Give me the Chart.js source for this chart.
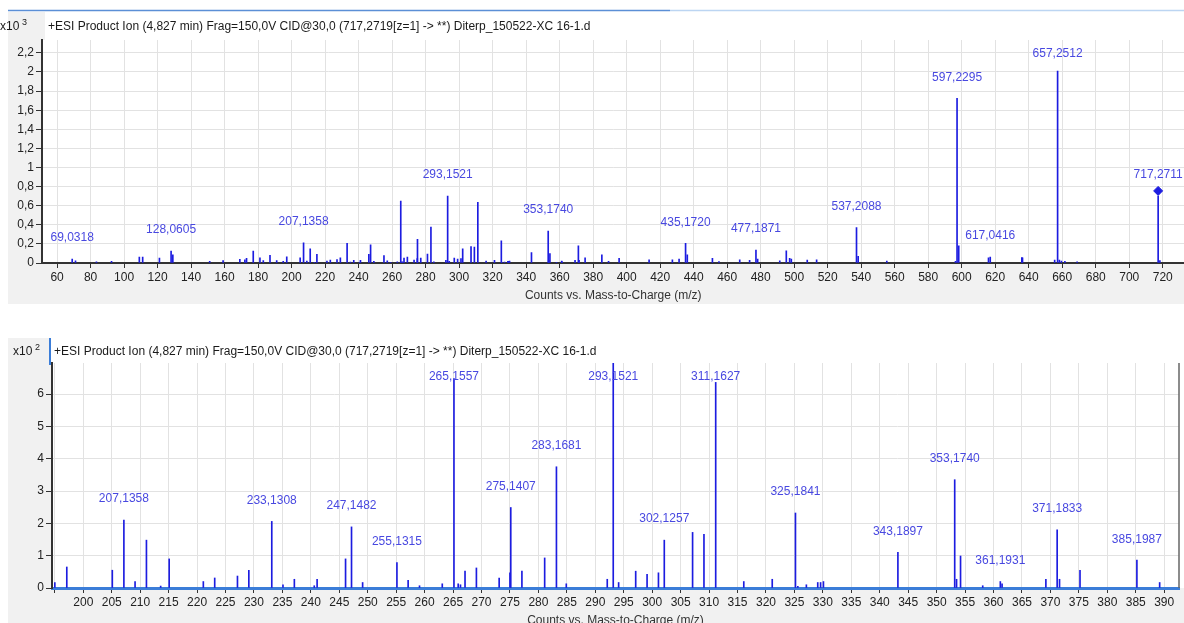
<!DOCTYPE html>
<html lang="en">
<head>
    <meta charset="UTF-8">
    <title>Product Ion spectrum</title>
    <script src="https://cdn.jsdelivr.net/npm/chart.js"></script>
    <style>
        html, body { margin: 0; padding: 0; background: #fff; overflow: hidden; }
        #topChart { position: absolute; left: 0; top: 0; }
        #zoomChart { position: absolute; left: 0; top: 330px; }
    </style>
</head>
<body>
    <canvas id="topChart" width="1190" height="310"></canvas>
    <canvas id="zoomChart" width="1184" height="300"></canvas>
<script>
// peaks (m/z, counts)
const peakMz = [
    69.0318, 71.0, 83.5, 92.5, 109.1, 111.1, 121.1, 128.0605, 129.1, 151.1,
    159.1, 169.1, 172.1, 173.1, 177.1, 181.1, 183.1, 187.1, 191.1,
    195.0, 197.1, 205.1, 207.1358, 209.1, 211.1, 213.6, 215.1, 221.1, 223.1,
    227.1, 229.1, 233.1308, 235.1, 237.1, 240.6, 241.1, 246.1, 247.1482, 249.1,
    255.1315, 257.1, 259.1, 263.1, 265.1557, 265.9, 266.3, 267.1, 269.1, 273.1,
    275.0, 275.1407, 277.1, 281.1, 283.1681, 284.9, 292.1, 293.1521, 294.1, 297.1,
    299.1, 301.1, 302.1257, 307.1, 309.1, 311.1627, 316.1, 321.1, 325.1841, 325.6,
    327.1, 329.1, 329.6, 330.1, 343.1897, 353.1740, 353.5, 354.2, 358.1, 361.1931,
    361.5, 369.2, 371.1833, 371.6, 375.2, 385.1987, 389.2,
    395.5, 413.4, 427.3, 431.3, 435.1720, 436.2, 451.2, 455.1, 467.5, 473.4,
    477.1871, 478.2, 491.4, 495.3, 497.3, 498.3, 507.8, 513.4, 537.2088, 538.2,
    555.3, 596.3, 597.2295, 598.23, 616.0, 617.0416, 635.9, 636.3, 655.5, 657.2512,
    658.3, 659.5, 661.6, 668.9, 717.2711, 718.3
];
const peakCounts = [
    40, 22, 12, 18, 62, 62, 52, 125, 85, 18,
    25, 38, 32, 48, 125, 55, 25, 80, 25,
    17, 65, 55, 210, 20, 148, 6, 90, 20, 31,
    37, 55, 206, 10, 27, 7, 27, 90, 189, 17,
    79, 24, 7, 13, 648, 13, 10, 52, 62, 31,
    47, 249, 52, 93, 375, 13, 27, 700, 17, 52,
    42, 47, 148, 172, 166, 636, 20, 27, 232, 5,
    10, 17, 17, 20, 110, 335, 27, 99, 7, 20,
    13, 27, 180, 27, 55, 86, 17,
    50, 32, 32, 40, 205, 85, 50, 15, 32, 28,
    135, 40, 22, 128, 50, 40, 30, 32, 370, 70,
    20, 18, 1725, 180, 55, 62, 58, 55, 30, 2010,
    30, 20, 18, 12, 700, 25
];
const precursor = [717.2711, 755];

const topLabels = [69.0318, 128.0605, 207.1358, 293.1521, 353.1740, 435.1720,
    477.1871, 537.2088, 597.2295, 617.0416, 657.2512, 717.2711];
const zoomLabels = [207.1358, 233.1308, 247.1482, 255.1315, 265.1557, 275.1407,
    283.1681, 293.1521, 302.1257, 311.1627, 325.1841, 343.1897, 353.1740,
    361.1931, 371.1833, 385.1987];

const topXTicks = [60, 80, 100, 120, 140, 160, 180, 200, 220, 240, 260, 280, 300, 320, 340,
    360, 380, 400, 420, 440, 460, 480, 500, 520, 540, 560, 580, 600, 620, 640, 660, 680, 700, 720];
const topYTicks = [0, 200, 400, 600, 800, 1000, 1200, 1400, 1600, 1800, 2000, 2200];
const zoomXTicks = [195, 200, 205, 210, 215, 220, 225, 230, 235, 240, 245, 250, 255, 260, 265,
    270, 275, 280, 285, 290, 295, 300, 305, 310, 315, 320, 325, 330, 335, 340, 345, 350,
    355, 360, 365, 370, 375, 380, 385, 390];
const zoomYTicks = [0, 100, 200, 300, 400, 500, 600];

const titleText = '+ESI Product Ion (4,827 min) Frag=150,0V CID@30,0 (717,2719[z=1] -> **) Diterp_150522-XC 16-1.d';

Chart.defaults.font.family = '"Liberation Sans", Arial, sans-serif';
Chart.defaults.font.size = 12;
Chart.defaults.color = '#222';

const points = peakMz.map((m, i) => ({ x: m, y: peakCounts[i] }));
const comma = v => String(v).replace('.', ',');

// backgrounds, frame lines and the "x10" title row
const panelFrame = {
    id: 'panelFrame',
    beforeDraw(chart, args, o) {
        const ctx = chart.ctx, a = chart.chartArea;
        const bottom = o.frameBottom || chart.height;
        ctx.save();
        ctx.fillStyle = '#f1f1f1';
        ctx.fillRect(8, o.frameTop, chart.width - 8, bottom - o.frameTop);
        ctx.fillStyle = '#fff';
        ctx.fillRect(o.titleLeft, o.frameTop, o.titleRight - o.titleLeft, a.top - o.frameTop);
        ctx.fillRect(a.left, a.top, a.right - a.left, a.bottom - a.top);
        if (o.whiteRight) ctx.fillRect(a.right, o.frameTop, chart.width - a.right, a.bottom - o.frameTop);
        ctx.restore();
    },
    afterDraw(chart, args, o) {
        const ctx = chart.ctx, a = chart.chartArea;
        ctx.save();
        if (o.topLine) {
            ctx.lineWidth = 1.5;
            ctx.strokeStyle = '#5b8fd6';
            ctx.beginPath(); ctx.moveTo(8, 10.5); ctx.lineTo(670, 10.5); ctx.stroke();
            ctx.strokeStyle = '#bcd5f2';
            ctx.beginPath(); ctx.moveTo(670, 10.5); ctx.lineTo(chart.width, 10.5); ctx.stroke();
        }
        if (o.sideLine) {
            ctx.lineWidth = 2;
            ctx.strokeStyle = '#3b7dd8';
            ctx.beginPath(); ctx.moveTo(50, o.frameTop); ctx.lineTo(50, a.top + 2); ctx.stroke();
            ctx.lineWidth = 1.5;
            ctx.strokeStyle = '#666';
            ctx.beginPath(); ctx.moveTo(a.right, a.top); ctx.lineTo(a.right, a.bottom); ctx.stroke();
        }
        ctx.fillStyle = '#1a1a1a';
        ctx.textBaseline = 'middle';
        ctx.textAlign = 'left';
        ctx.font = '12px "Liberation Sans", Arial, sans-serif';
        ctx.fillText('x10', o.expX, o.titleY);
        ctx.fillText(titleText, o.titleX, o.titleY);
        ctx.font = '9px "Liberation Sans", Arial, sans-serif';
        ctx.fillText(o.exp, o.expX + 22, o.titleY - 4);
        ctx.restore();
    }
};

// m/z labels above the labelled peaks
const peakLabels = {
    id: 'peakLabels',
    afterDatasetsDraw(chart, args, o) {
        const ctx = chart.ctx, a = chart.chartArea;
        const xs = chart.scales.x, ys = chart.scales.y;
        ctx.save();
        ctx.font = '12px "Liberation Sans", Arial, sans-serif';
        ctx.fillStyle = '#4848e0';
        ctx.textAlign = 'center';
        ctx.textBaseline = 'middle';
        o.list.forEach(m => {
            const i = peakMz.indexOf(m);
            const px = xs.getPixelForValue(m);
            let py = ys.getPixelForValue(peakCounts[i]) - 21;
            if (py < a.top + 14) py = a.top + 14;
            ctx.fillText(m.toFixed(4).replace('.', ','), px, py);
        });
        ctx.restore();
    }
};

function axisX(min, max, ticks, height, borderColor, borderWidth, titlePad) {
    return {
        type: 'linear', min: min, max: max, offset: false,
        grid: { color: '#e2e2e2', offset: false, tickColor: '#333', tickLength: 5 },
        border: { color: borderColor, width: borderWidth },
        ticks: {
            autoSkip: false, maxRotation: 0, padding: 2, color: '#222',
            callback: v => (v === 195 ? '' : String(v))
        },
        afterBuildTicks: s => { s.ticks = ticks.map(v => ({ value: v })); },
        afterFit: s => { s.height = height; },
        title: { display: true, text: 'Counts vs. Mass-to-Charge (m/z)', color: '#333',
                 padding: { top: 0, bottom: titlePad } }
    };
}

function axisY(max, ticks, width, div) {
    return {
        min: 0, max: max,
        grid: { color: '#e2e2e2', tickColor: '#333', tickLength: 6 },
        border: { color: '#333', width: 2 },
        ticks: { padding: 2, color: '#222', callback: v => comma(v / div) },
        afterBuildTicks: s => { s.ticks = ticks.map(v => ({ value: v })); },
        afterFit: s => { s.width = width; }
    };
}

new Chart(document.getElementById('topChart'), {
    type: 'bar',
    data: {
        datasets: [
            { data: points, backgroundColor: '#1c1ce0', barThickness: 1, order: 2 },
            { type: 'scatter', data: [{ x: precursor[0], y: precursor[1] }], pointStyle: 'rectRot',
              pointRadius: 4.5, backgroundColor: '#1c1ce0', borderColor: '#1c1ce0', order: 1 }
        ]
    },
    options: {
        responsive: false, animation: false,
        layout: { padding: { left: 8, top: 40, right: 0, bottom: 5 } },
        plugins: {
            legend: { display: false }, tooltip: { enabled: false },
            panelFrame: { frameTop: 12, frameBottom: 304, titleLeft: 45, titleRight: 1190, titleX: 48,
                          titleY: 27, expX: 0, exp: '3', topLine: true },
            peakLabels: { list: topLabels }
        },
        scales: {
            x: axisX(51, 733, topXTicks, 42, '#333', 2, 2),
            y: axisY(2335, topYTicks, 34, 1000)
        }
    },
    plugins: [panelFrame, peakLabels]
});

new Chart(document.getElementById('zoomChart'), {
    type: 'bar',
    data: {
        datasets: [
            { data: points, backgroundColor: '#1c1ce0', barThickness: 1 }
        ]
    },
    options: {
        responsive: false, animation: false,
        layout: { padding: { left: 8, top: 33, right: 5, bottom: 0 } },
        plugins: {
            legend: { display: false }, tooltip: { enabled: false },
            panelFrame: { frameTop: 8, titleLeft: 50, titleRight: 1179, titleX: 54, titleY: 22,
                          expX: 13, exp: '2', sideLine: true, whiteRight: true },
            peakLabels: { list: zoomLabels }
        },
        scales: {
            x: axisX(194.5, 392.6, zoomXTicks, 42, '#3b7dd8', 3, 2),
            y: axisY(696, zoomYTicks, 44, 100)
        }
    },
    plugins: [panelFrame, peakLabels]
});
</script>
</body>
</html>
